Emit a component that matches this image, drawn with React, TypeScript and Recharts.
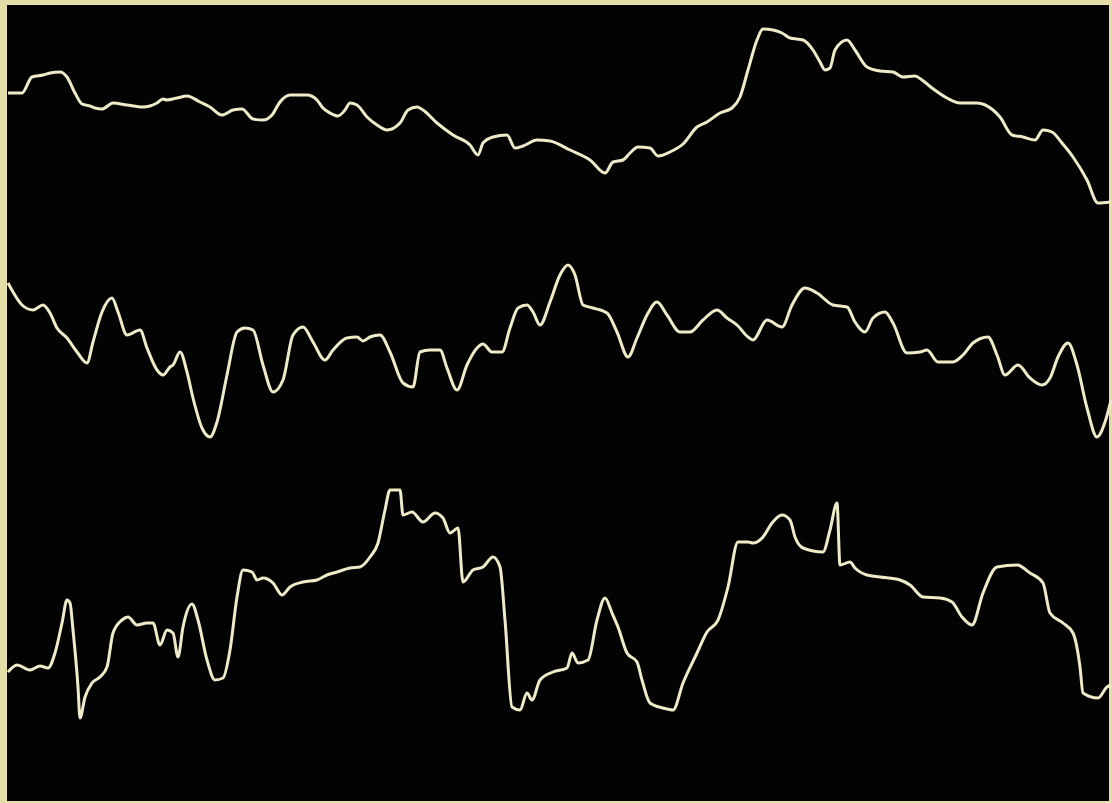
import { LineChart, Line, XAxis, YAxis } from "recharts";

// traces: x = horizontal position, y = vertical deflection (px from top)
const traceTopX = [8, 22, 32, 43, 50, 60, 67, 75, 82, 90, 95, 102, 113, 127, 143, 157, 163, 167, 177, 187, 200, 210, 222, 233, 242, 253, 263, 272, 280, 290, 307, 317, 323, 330, 338, 345, 350, 357, 367, 377, 387, 400, 408, 417, 423, 437, 453, 470, 478, 483, 493, 507, 515, 523, 537, 550, 570, 590, 605, 613, 623, 630, 638, 650, 658, 670, 683, 697, 707, 720, 732, 740, 748, 757, 763, 773, 782, 790, 803, 813, 820, 825, 830, 835, 847, 855, 867, 880, 893, 903, 915, 922, 932, 947, 960, 977, 993, 1000, 1012, 1023, 1035, 1043, 1052, 1062, 1073, 1087, 1098, 1110];
const traceTopY = [93, 93, 77, 75, 73, 72, 77, 93, 104, 106, 108, 109, 103, 105, 107, 103, 99, 100, 98, 96, 102, 107, 115, 110, 109, 119, 120, 115, 102, 95, 95, 100, 108, 113, 116, 110, 103, 105, 117, 125, 130, 123, 110, 107, 110, 123, 135, 145, 155, 143, 137, 135, 148, 146, 140, 141, 150, 160, 173, 162, 160, 153, 147, 148, 156, 152, 144, 127, 122, 113, 108, 97, 70, 40, 29, 30, 33, 38, 40, 50, 62, 70, 68, 50, 40, 50, 67, 71, 72, 77, 76, 80, 88, 98, 103, 103, 110, 117, 135, 137, 140, 130, 132, 143, 157, 180, 203, 202];

const traceMidX = [8, 13, 22, 33, 43, 50, 57, 67, 77, 87, 93, 102, 112, 118, 127, 140, 147, 157, 163, 170, 173, 180, 187, 193, 202, 210, 217, 227, 237, 245, 253, 263, 273, 283, 293, 303, 313, 325, 333, 347, 357, 363, 370, 380, 390, 403, 413, 420, 430, 440, 447, 457, 467, 477, 483, 492, 502, 510, 518, 527, 533, 540, 550, 560, 568, 575, 583, 593, 607, 617, 628, 637, 647, 657, 667, 680, 690, 703, 717, 727, 737, 748, 753, 767, 782, 792, 805, 817, 833, 847, 855, 865, 873, 885, 893, 907, 920, 927, 938, 953, 963, 973, 988, 997, 1005, 1018, 1030, 1042, 1050, 1058, 1068, 1077, 1087, 1097, 1105, 1111];
const traceMidY = [283, 292, 305, 310, 305, 313, 328, 338, 352, 363, 342, 312, 298, 312, 335, 330, 348, 370, 375, 367, 365, 352, 372, 398, 428, 437, 422, 375, 332, 328, 330, 365, 392, 380, 335, 327, 342, 360, 350, 338, 337, 341, 337, 335, 352, 383, 387, 352, 350, 350, 368, 390, 365, 348, 344, 352, 352, 328, 308, 305, 312, 325, 302, 275, 265, 275, 305, 308, 313, 332, 357, 338, 315, 302, 315, 332, 332, 320, 310, 318, 325, 337, 340, 320, 327, 305, 288, 293, 305, 307, 322, 332, 318, 312, 323, 353, 352, 350, 362, 362, 355, 343, 337, 355, 375, 365, 378, 385, 378, 357, 343, 365, 408, 437, 422, 400];

const traceLowX = [8, 17, 30, 40, 48, 55, 62, 67, 70, 73, 78, 80, 85, 92, 100, 107, 113, 122, 128, 137, 147, 153, 160, 167, 173, 178, 183, 192, 198, 207, 215, 223, 230, 237, 243, 252, 257, 263, 273, 282, 290, 303, 317, 327, 337, 350, 360, 370, 378, 385, 390, 400, 403, 412, 423, 435, 443, 450, 458, 463, 473, 483, 493, 500, 505, 512, 520, 527, 532, 540, 553, 567, 572, 578, 588, 597, 605, 612, 618, 627, 637, 642, 650, 663, 673, 683, 697, 707, 718, 728, 738, 748, 753, 763, 772, 782, 790, 795, 803, 823, 830, 837, 840, 850, 855, 867, 880, 900, 910, 923, 940, 952, 962, 972, 983, 997, 1017, 1030, 1043, 1050, 1063, 1073, 1080, 1083, 1098, 1107, 1111];
const traceLowY = [672, 665, 670, 666, 668, 653, 623, 600, 603, 630, 687, 718, 697, 683, 677, 667, 633, 620, 617, 625, 623, 623, 645, 630, 633, 657, 627, 604, 620, 660, 680, 678, 650, 597, 570, 572, 580, 578, 583, 595, 587, 582, 580, 575, 572, 568, 567, 557, 543, 510, 490, 490, 515, 512, 522, 513, 518, 533, 528, 582, 570, 567, 557, 567, 620, 707, 710, 693, 700, 680, 672, 668, 653, 663, 660, 620, 598, 613, 627, 653, 662, 680, 703, 708, 710, 683, 653, 632, 620, 587, 542, 542, 543, 537, 523, 515, 520, 537, 548, 552, 530, 503, 565, 562, 568, 575, 577, 580, 585, 597, 598, 602, 617, 625, 593, 567, 565, 573, 583, 613, 623, 633, 667, 693, 698, 687, 685];

const toPoints = (xs: number[], ys: number[]) => xs.map((x, i) => ({ x, y: ys[i] }));

const TRACE = "#efebc9";

export default function App() {
  const traces = [
    toPoints(traceTopX, traceTopY),
    toPoints(traceMidX, traceMidY),
    toPoints(traceLowX, traceLowY),
  ];

  return (
    <div style={{ position: "absolute", left: 0, top: 0, width: 1112, height: 803, background: "#e4dda8", overflow: "hidden" }}>
      <div style={{ position: "absolute", left: 7, top: 5, width: 1102, height: 796, background: "#030303" }} />
      <div style={{ position: "absolute", left: 0, top: 0 }}>
        <LineChart width={1112} height={803} margin={{ top: 0, right: 0, bottom: 0, left: 0 }}>
          <XAxis type="number" dataKey="x" domain={[0, 1112]} hide allowDataOverflow />
          <YAxis type="number" dataKey="y" domain={[0, 803]} reversed hide allowDataOverflow />
          {traces.map((t, i) => (
            <Line
              key={i}
              data={t}
              dataKey="y"
              type="monotone"
              stroke={TRACE}
              strokeWidth={3}
              dot={false}
              activeDot={false}
              isAnimationActive={false}
            />
          ))}
        </LineChart>
      </div>
    </div>
  );
}
